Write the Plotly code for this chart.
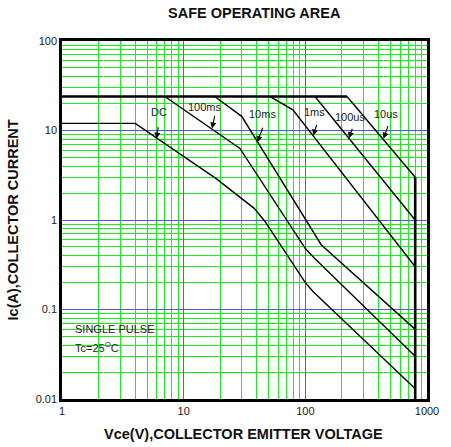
import math
import plotly.graph_objects as go

# ---------------- data ----------------
chart_title = "SAFE OPERATING AREA"
x_title = "Vce(V),COLLECTOR EMITTER VOLTAGE"
y_title = "Ic(A),COLLECTOR CURRENT"

x_ticks = [1, 10, 100, 1000]
x_tick_text = ["1", "10", "100", "1000"]
y_ticks = [0.01, 0.1, 1, 10, 100]
y_tick_text = ["0.01", "0.1", "1", "10", "100"]

# current limit (top) and voltage limit (right)
ilim_v = [1, 220]
ilim_i = [24, 24]
vlim_v = [800, 800]
vlim_i = [0.01, 3]

dc_v = [1, 4, 18.5, 38, 47, 100, 115, 800]
dc_i = [12, 12, 2.9, 1.35, 0.95, 0.2, 0.16, 0.013]
ms100_v = [7, 29, 100, 120, 800]
ms100_i = [24, 6.3, 0.48, 0.37, 0.03]
ms10_v = [18, 30, 135, 800]
ms10_i = [24, 14.4, 0.53, 0.06]
ms1_v = [51, 79, 800]
ms1_i = [24, 17, 0.3]
us100_v = [120, 800]
us100_i = [24, 1.0]
us10_v = [220, 800]
us10_i = [24, 3]

curve_labels = ["DC", "100ms", "10ms", "1ms", "100us", "10us"]
note_lines = ["SINGLE PULSE", "Tc=25<sup>O</sup>C"]

# ---------------- figure ----------------
W, H = 451, 447
ML, MR, MT, MB = 62, 13, 41, 48

fig = go.Figure()
for xs, ys in [(dc_v, dc_i), (ms100_v, ms100_i), (ms10_v, ms10_i),
               (ms1_v, ms1_i), (us100_v, us100_i), (us10_v, us10_i)]:
    fig.add_trace(go.Scatter(x=xs, y=ys, mode="lines",
                             line=dict(color="black", width=1.4),
                             showlegend=False, hoverinfo="skip"))
for xs, ys in [(ilim_v, ilim_i), (vlim_v, vlim_i)]:
    fig.add_trace(go.Scatter(x=xs, y=ys, mode="lines",
                             line=dict(color="black", width=2.6),
                             showlegend=False, hoverinfo="skip"))

minor_x = [m * 10 ** d for d in range(0, 3) for m in range(2, 10)]
minor_y = [m * 10 ** d for d in range(-2, 2) for m in range(2, 10)]

GREEN = "#19f019"
BLUE = "#5555ff"
FONT = "Liberation Sans, Arial, sans-serif"

axis_common = dict(type="log", tickmode="array", showgrid=True,
                   gridcolor=BLUE, gridwidth=1, ticks="", showline=True,
                   linecolor="black", linewidth=2.5, mirror=True, zeroline=False,
                   tickfont=dict(family=FONT, size=11, color="#222"))
fig.update_xaxes(range=[0, 3], tickvals=x_ticks, ticktext=x_tick_text,
                 minor=dict(tickmode="array", tickvals=minor_x, showgrid=True,
                            gridcolor=GREEN, gridwidth=1, ticks=""),
                 **axis_common)
fig.update_yaxes(range=[-2, 2], tickvals=y_ticks, ticktext=y_tick_text,
                 minor=dict(tickmode="array", tickvals=minor_y, showgrid=True,
                            gridcolor=GREEN, gridwidth=1, ticks=""),
                 **axis_common)

# white box for the note
fig.add_shape(type="rect", xref="x", yref="y", x0=0.02, x1=0.805,
              y0=-1.56, y1=-1.04, fillcolor="white", line=dict(width=0),
              layer="between")

pw, ph = W - ML - MR, H - MT - MB
def px(xp):
    return (xp - ML) / pw
def py(yp):
    return (H - MB - yp) / ph

annotations = []
# labels: text centre (V, I), arrow head (V, I), arrow tail offset px
label_pos = [
    ((6.24, 15.9), (5.97, 8.1), (2, -13)),
    ((15.1, 18.1), (17.1, 10.5), (3, -14)),
    ((44.2, 15.3), (40.3, 7.4), (6, -16)),
    ((118, 15.9), (116, 8.8), (4, -12)),
    ((231, 14.0), (228, 8.2), (4, -11)),
    ((461, 15.3), (439, 8.1), (5, -14)),
]
for lab, (tp, hp, off) in zip(curve_labels, label_pos):
    annotations.append(dict(x=math.log10(tp[0]), y=math.log10(tp[1]), text=lab,
                            showarrow=False, xref="x", yref="y",
                            xanchor="center", yanchor="middle",
                            font=dict(family=FONT, size=11, color="#222")))
    annotations.append(dict(x=math.log10(hp[0]), y=math.log10(hp[1]), text="",
                            showarrow=True, ax=off[0], ay=off[1],
                            arrowhead=2, arrowsize=1.1, arrowwidth=1.1,
                            arrowcolor="black", xref="x", yref="y", standoff=0))

annotations.append(dict(x=0.09, y=-1.218, text=note_lines[0], showarrow=False,
                        xanchor="left", yanchor="middle", xref="x", yref="y",
                        font=dict(family=FONT, size=11, color="#222")))
annotations.append(dict(x=0.09, y=-1.423, text=note_lines[1], showarrow=False,
                        xanchor="left", yanchor="middle", xref="x", yref="y",
                        font=dict(family=FONT, size=11, color="#222")))

annotations.append(dict(x=px(260), y=py(13), xref="paper", yref="paper",
                        xanchor="center", yanchor="middle",
                        text=f"<b>{chart_title}</b>", showarrow=False,
                        font=dict(family=FONT, size=14.5, color="#111")))
annotations.append(dict(x=px(249), y=py(434), xref="paper", yref="paper",
                        xanchor="center", yanchor="middle",
                        text=f"<b>{x_title}</b>", showarrow=False,
                        font=dict(family=FONT, size=14.5, color="#111")))
annotations.append(dict(x=px(12), y=py(220), xref="paper", yref="paper",
                        xanchor="center", yanchor="middle",
                        text=f"<b>{y_title}</b>", showarrow=False, textangle=-90,
                        font=dict(family=FONT, size=14.5, color="#111")))

fig.update_layout(
    width=W, height=H,
    margin=dict(l=ML, r=MR, t=MT, b=MB),
    paper_bgcolor="white", plot_bgcolor="white",
    showlegend=False,
    annotations=annotations,
)

fig.write_html("out.html", config={"displayModeBar": False},
               post_script="document.body.style.margin='0';document.body.style.padding='0';")
